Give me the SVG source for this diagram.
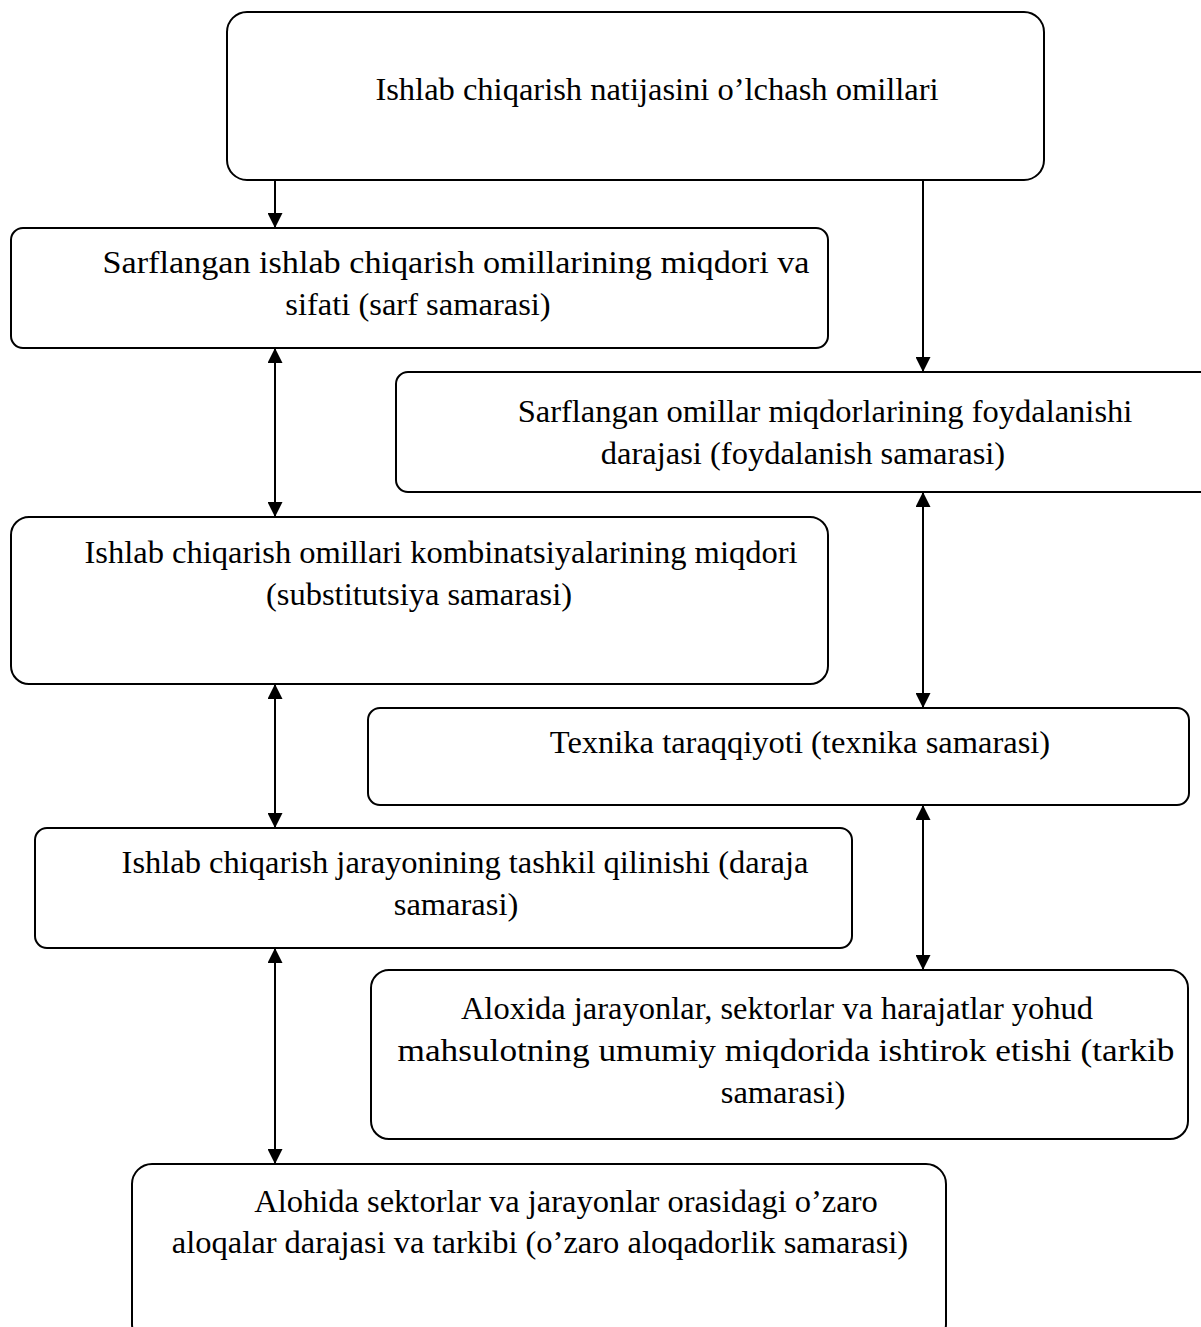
<svg xmlns="http://www.w3.org/2000/svg" width="1201" height="1327" viewBox="0 0 1201 1327">
<style>
.box{fill:#fff;stroke:#000;stroke-width:2}
.t{font-family:"Liberation Serif","Times New Roman",serif;font-size:32.5px;fill:#000;text-anchor:middle}
.c{stroke:#000;stroke-width:2;fill:none}
</style>
<defs>
<marker id="ah" viewBox="0 0 10 10" refX="10" refY="5" markerWidth="7.5" markerHeight="7.5" markerUnits="strokeWidth" orient="auto-start-reverse">
<path d="M0,0 L10,5 L0,10 z" fill="#000"/>
</marker>
</defs>
<rect width="1201" height="1327" fill="#fff"/>
<g id="connectors">
<line class="c" x1="275" y1="180" x2="275" y2="228" marker-end="url(#ah)"/>
<line class="c" x1="923" y1="180" x2="923" y2="372" marker-end="url(#ah)"/>
<line class="c" x1="275" y1="348" x2="275" y2="517" marker-start="url(#ah)" marker-end="url(#ah)"/>
<line class="c" x1="923" y1="492" x2="923" y2="708" marker-start="url(#ah)" marker-end="url(#ah)"/>
<line class="c" x1="275" y1="684" x2="275" y2="828" marker-start="url(#ah)" marker-end="url(#ah)"/>
<line class="c" x1="923" y1="805" x2="923" y2="970" marker-start="url(#ah)" marker-end="url(#ah)"/>
<line class="c" x1="275" y1="948" x2="275" y2="1164" marker-start="url(#ah)" marker-end="url(#ah)"/>
</g>
<g id="n1">
<rect class="box" x="227" y="12" width="817" height="168" rx="20"/>
<text class="t" x="657" y="100">Ishlab chiqarish natijasini o’lchash omillari</text>
</g>
<g id="n2">
<rect class="box" x="11" y="228" width="817" height="120" rx="12"/>
<text class="t" x="456" y="273" textLength="707" lengthAdjust="spacingAndGlyphs">Sarflangan ishlab chiqarish omillarining miqdori va</text>
<text class="t" x="418" y="315">sifati (sarf samarasi)</text>
</g>
<g id="n3">
<rect class="box" x="396" y="372" width="820" height="120" rx="12"/>
<text class="t" x="825" y="422">Sarflangan omillar miqdorlarining foydalanishi</text>
<text class="t" x="803" y="464">darajasi (foydalanish samarasi)</text>
</g>
<g id="n4">
<rect class="box" x="11" y="517" width="817" height="167" rx="18"/>
<text class="t" x="441" y="563">Ishlab chiqarish omillari kombinatsiyalarining miqdori</text>
<text class="t" x="419" y="605">(substitutsiya samarasi)</text>
</g>
<g id="n5">
<rect class="box" x="368" y="708" width="821" height="97" rx="12"/>
<text class="t" x="800" y="753">Texnika taraqqiyoti (texnika samarasi)</text>
</g>
<g id="n6">
<rect class="box" x="35" y="828" width="817" height="120" rx="12"/>
<text class="t" x="465" y="873">Ishlab chiqarish jarayonining tashkil qilinishi (daraja</text>
<text class="t" x="456" y="915">samarasi)</text>
</g>
<g id="n7">
<rect class="box" x="371" y="970" width="817" height="169" rx="18"/>
<text class="t" x="777" y="1019">Aloxida jarayonlar, sektorlar va harajatlar yohud</text>
<text class="t" x="786" y="1061" textLength="777" lengthAdjust="spacingAndGlyphs">mahsulotning umumiy miqdorida ishtirok etishi (tarkib</text>
<text class="t" x="783" y="1103">samarasi)</text>
</g>
<g id="n8">
<rect class="box" x="132" y="1164" width="814" height="180" rx="20"/>
<text class="t" x="566" y="1212">Alohida sektorlar va jarayonlar orasidagi o’zaro</text>
<text class="t" x="540" y="1253">aloqalar darajasi va tarkibi (o’zaro aloqadorlik samarasi)</text>
</g>
</svg>
